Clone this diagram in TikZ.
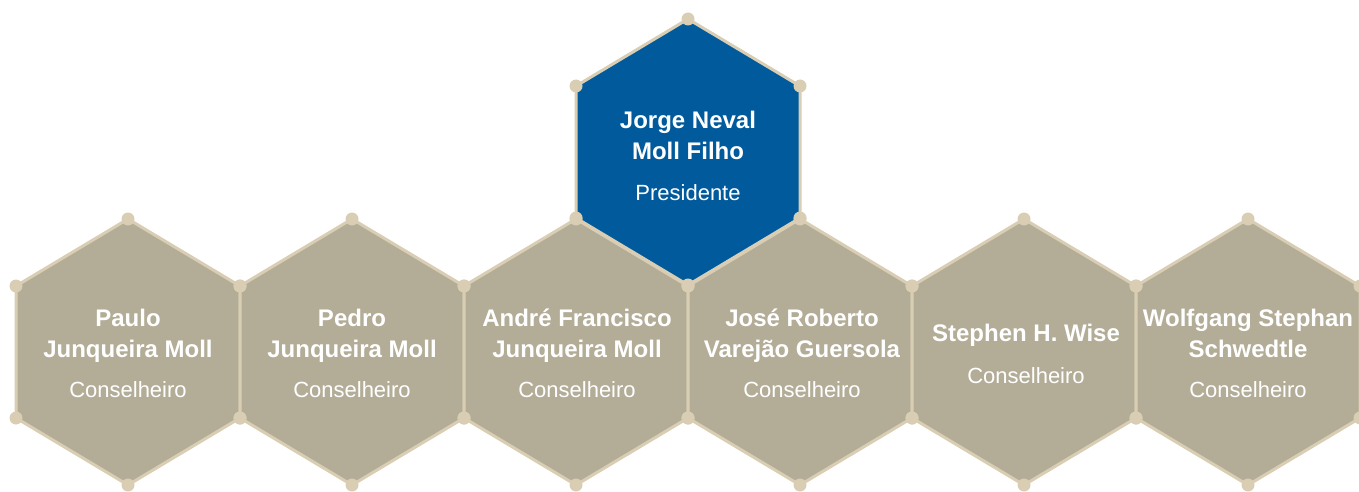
\documentclass[tikz,border=0pt]{standalone}
\usepackage{fontspec}
\setmainfont{Liberation Sans}
\usepackage{xcolor}
\usepackage{tikz}

\definecolor{hexblue}{HTML}{005A9C}
\definecolor{hextan}{HTML}{B3AC97}
\definecolor{hexrim}{HTML}{D9CEB3}

\begin{document}
\begin{tikzpicture}[x=1pt,y=1pt,
  rim/.style={draw=hexrim,line width=3pt,line join=round},
  who/.style={text=white,align=center,font=\bfseries\fontsize{24}{31}\selectfont},
  role/.style={text=white,font=\fontsize{22}{26}\selectfont}]
  \useasboundingbox (0,0) rectangle (1359,491);
  % lower row of cells
  \foreach \x in {128,352,576,800,1024,1248} {
    \filldraw[rim,fill=hextan] (\x,272) -- (\x+112,205) -- (\x+112,73) -- (\x,6)
      -- (\x-112,73) -- (\x-112,205) -- cycle;
  }
  % top cell
  \filldraw[rim,fill=hexblue] (688,472) -- (800,405) -- (800,273) -- (688,206)
    -- (576,273) -- (576,405) -- cycle;
  % corner dots
  \foreach \x/\y in {128/139,352/139,576/139,800/139,1024/139,1248/139,688/339} {
    \foreach \dx/\dy in {0/133,112/66,112/-66,0/-133,-112/-66,-112/66} {
      \fill[hexrim] (\x+\dx,\y+\dy) circle (6.5pt);
    }
  }
  \node[who] (jorge) at (688,355.5) {Jorge Neval\\Moll Filho};
  \node[role] (jorge-role) at (688,298) {Presidente};
  \node[who] (paulo) at (128,155.5) {Paulo\\Junqueira Moll};
  \node[role] (paulo-role) at (128,101) {Conselheiro};
  \node[who] (pedro) at (352,155.5) {Pedro\\Junqueira Moll};
  \node[role] (pedro-role) at (352,101) {Conselheiro};
  \node[who] (andre) at (577,155.5) {André Francisco\\Junqueira Moll};
  \node[role] (andre-role) at (577,101) {Conselheiro};
  \node[who] (jose) at (802,155.5) {José Roberto\\Varejão Guersola};
  \node[role] (jose-role) at (802,101) {Conselheiro};
  \node[who] (stephen) at (1026,156) {Stephen H. Wise};
  \node[role] (stephen-role) at (1026,115) {Conselheiro};
  \node[who] (wolfgang) at (1248,157.5) {Wolfgang Stephan\\Schwedtle};
  \node[role] (wolfgang-role) at (1248,101) {Conselheiro};
\end{tikzpicture}
\end{document}
